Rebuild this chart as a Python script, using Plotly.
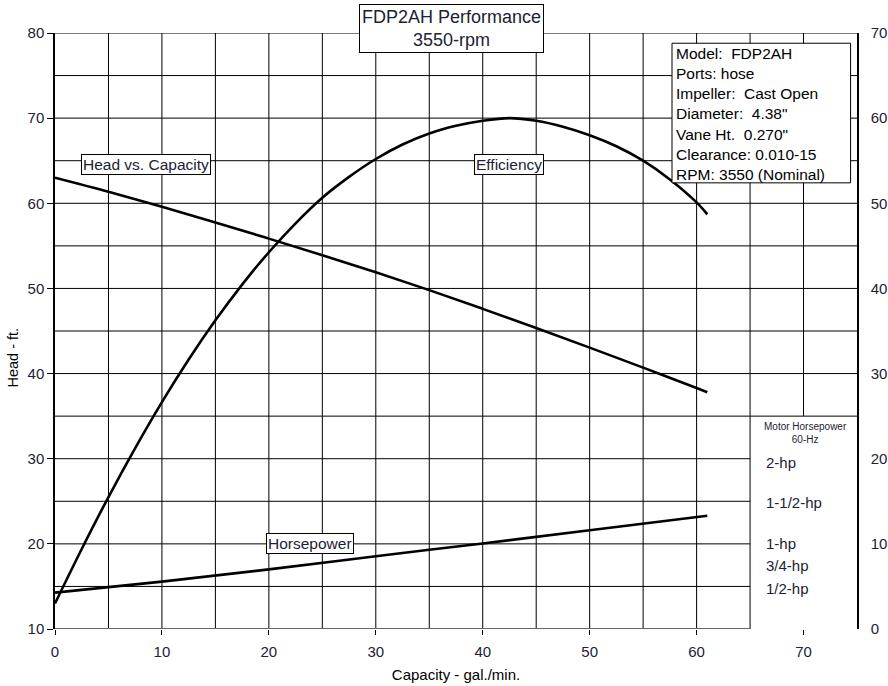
import plotly.graph_objects as go

# Capacity (gal/min)
capacity = [0, 5, 10, 15, 20, 25, 30, 35, 40, 45, 50, 55, 60, 61]
# Head (ft, left axis)
head = [63.0, 61.35, 59.6, 57.75, 55.85, 53.9, 51.9, 49.8, 47.6, 45.35, 43.05, 40.7, 38.3, 37.8]
# Efficiency (%, right axis)
eff_capacity = [0, 2.5, 5, 7.5, 10, 12.5, 15, 17.5, 20, 22.5, 25, 27.5, 30, 32.5, 35, 37.5, 40, 42.5,
                45, 47.5, 50, 52.5, 55, 57.5, 60, 61]
efficiency = [3.0, 9.4, 15.5, 21.25, 26.65, 31.65, 36.25, 40.45, 44.25, 47.65, 50.65, 53.1, 55.2, 56.9,
              58.2, 59.1, 59.7, 60.0, 59.7, 59.0, 58.0, 56.7, 55.0, 52.8, 50.1, 48.7]
# Horsepower (right axis scale)
hp_capacity = [0, 10, 20, 30, 40, 50, 61]
horsepower = [4.27, 5.56, 7.0, 8.55, 10.05, 11.6, 13.3]

x_ticks = [0, 10, 20, 30, 40, 50, 60, 70]
y_ticks = [10, 20, 30, 40, 50, 60, 70, 80]
y2_ticks = [0, 10, 20, 30, 40, 50, 60, 70]

info_lines = ["Model:  FDP2AH", "Ports: hose", "Impeller:  Cast Open", "Diameter:  4.38\"",
              "Vane Ht.  0.270\"", "Clearance: 0.010-15", "RPM: 3550 (Nominal)"]
motor_labels = ["2-hp", "1-1/2-hp", "1-hp", "3/4-hp", "1/2-hp"]
motor_label_y = [29.6, 24.8, 20.0, 17.5, 14.8]

FONT = "Liberation Sans, Arial, sans-serif"
TXT = "#1c2233"

fig = go.Figure()
fig.add_trace(go.Scatter(x=capacity, y=head, mode="lines", line=dict(color="black", width=2.6, shape="spline"),
                         showlegend=False, hoverinfo="skip"))
fig.add_trace(go.Scatter(x=eff_capacity, y=efficiency, mode="lines", yaxis="y2",
                         line=dict(color="black", width=2.6, shape="spline"),
                         showlegend=False, hoverinfo="skip"))
fig.add_trace(go.Scatter(x=hp_capacity, y=horsepower, mode="lines", yaxis="y2",
                         line=dict(color="black", width=2.6, shape="spline"), showlegend=False, hoverinfo="skip"))

shapes = []
grid = dict(color="black", width=1)
# vertical grid lines
for xv in range(5, 70, 5):
    shapes.append(dict(type="line", xref="x", yref="y", x0=xv, x1=xv, y0=10, y1=80, line=grid, layer="below"))
shapes.append(dict(type="line", xref="x", yref="y", x0=70, x1=70, y0=35, y1=80, line=grid, layer="below"))
# horizontal grid lines
for yv in range(15, 85, 5):
    x_end = 75 if yv >= 35 else 65
    shapes.append(dict(type="line", xref="x", yref="y", x0=0, x1=x_end, y0=yv, y1=yv, line=grid, layer="below"))
# bottom axis line (only to 65)
shapes.append(dict(type="line", xref="x", yref="y", x0=0, x1=65, y0=10, y1=10,
                   line=dict(color="#666666", width=2), layer="below"))
# info box frame
shapes.append(dict(type="rect", xref="x", yref="y", x0=57.7, x1=74.4, y0=62.4, y1=78.8,
                   line=dict(color="black", width=1), fillcolor="white", layer="above"))

annotations = []
box = dict(bordercolor="black", borderwidth=1, bgcolor="white")
annotations.append(dict(xref="x", yref="paper", x=37.1, y=1.008, text="FDP2AH Performance<br>3550-rpm",
                        showarrow=False, font=dict(family=FONT, size=18, color=TXT), borderpad=2,
                        xanchor="center", yanchor="middle", **box))
annotations.append(dict(xref="x", yref="y", x=57.95, y=78.7, text="<br>".join(info_lines), align="left",
                        showarrow=False, font=dict(family=FONT, size=15.5, color="black"), borderpad=0,
                        xanchor="left", yanchor="top"))
annotations.append(dict(xref="x", yref="y", x=8.5, y=64.5, text="Head vs. Capacity", showarrow=False,
                        font=dict(family=FONT, size=15.5, color=TXT), borderpad=1, **box))
annotations.append(dict(xref="x", yref="y", x=42.5, y=64.6, text="Efficiency", showarrow=False,
                        font=dict(family=FONT, size=15.5, color=TXT), borderpad=1, **box))
annotations.append(dict(xref="x", yref="y", x=23.8, y=20.0, text="Horsepower", showarrow=False,
                        font=dict(family=FONT, size=15.5, color=TXT), borderpad=1, **box))
annotations.append(dict(xref="x", yref="y", x=70.2, y=33.0, text="Motor Horsepower<br>60-Hz", showarrow=False,
                        font=dict(family=FONT, size=10, color=TXT), xanchor="center", yanchor="middle"))
for lab, yv in zip(motor_labels, motor_label_y):
    annotations.append(dict(xref="x", yref="y", x=66.3, y=yv, text=lab, showarrow=False,
                            font=dict(family=FONT, size=15, color=TXT), xanchor="left", yanchor="middle"))
annotations.append(dict(xref="paper", yref="paper", x=-0.052, y=0.456, text="Head - ft.", textangle=-90,
                        showarrow=False, font=dict(family=FONT, size=14.5, color="black"),
                        xanchor="center", yanchor="middle"))

fig.update_layout(
    width=888, height=686,
    margin=dict(l=55, r=31, t=33, b=57),
    paper_bgcolor="white", plot_bgcolor="white",
    font=dict(family=FONT, size=15, color=TXT),
    shapes=shapes, annotations=annotations,
    xaxis=dict(range=[0, 75], tickvals=x_ticks, showgrid=False, zeroline=False, showline=False,
               ticks="outside", ticklen=5, tickcolor="black", ticklabelstandoff=4, automargin=False,
               title=dict(text="Capacity - gal./min.", font=dict(size=15, color="black"), standoff=10)),
    yaxis=dict(range=[10, 80], tickvals=y_ticks, showgrid=False, zeroline=False, showline=True,
               linecolor="black", linewidth=1.5, ticks="outside", ticklen=6, tickcolor="black",
               automargin=False),
    yaxis2=dict(range=[0, 70], tickvals=y2_ticks, overlaying="y", side="right", showgrid=False,
                zeroline=False, showline=True, linecolor="black", linewidth=1.5, ticks="",
                ticklabelstandoff=9, automargin=False),
)

fig.write_html("out.html", config={"displayModeBar": False},
               post_script="document.body.style.margin='0px';")
